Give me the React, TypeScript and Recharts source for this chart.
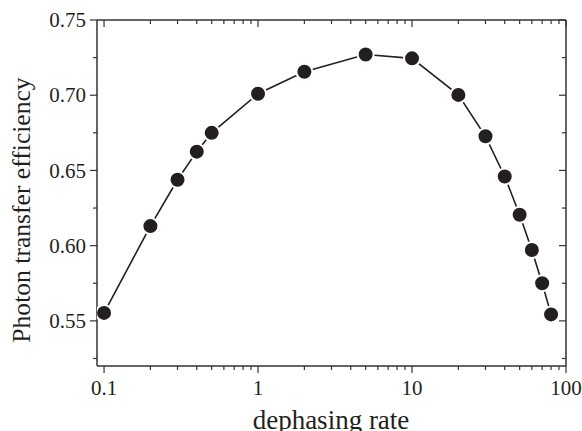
import * as React from 'react';
import { LineChart, Line, XAxis, YAxis, Label } from 'recharts';

const rates = [0.1, 0.2, 0.3, 0.4, 0.5, 1, 2, 5, 10, 20, 30, 40, 50, 60, 70, 80];
const efficiency = [
  0.5553, 0.613, 0.6438, 0.6625, 0.675, 0.701, 0.7156, 0.7271, 0.7245, 0.7002, 0.6727, 0.646,
  0.6205, 0.5971, 0.575, 0.5543,
];

const xMajorTicks = [0.1, 1, 10, 100];
const xMinorTicks = [
  0.2, 0.3, 0.4, 0.5, 0.6, 0.7, 0.8, 0.9, 2, 3, 4, 5, 6, 7, 8, 9, 20, 30, 40, 50, 60, 70, 80, 90,
];
const yMajorTicks = [0.55, 0.6, 0.65, 0.7, 0.75];
const yMinorTicks = [0.525, 0.575, 0.625, 0.675, 0.725];

const data = rates.map((r, i) => ({ rate: r, eff: efficiency[i] }));

const INK = '#231f20';
const AXIS = '#333';
const FONT = '"Liberation Serif", "Times New Roman", serif';
const MAJOR = 7;
const MINOR = 4;

const isMajorX = (v: number) => xMajorTicks.some((t) => Math.abs(t - v) < 1e-9);
const isMajorY = (v: number) => yMajorTicks.some((t) => Math.abs(t - v) < 1e-9);

function BottomTick({ x, y, payload }: any) {
  const major = isMajorX(payload.value);
  return (
    <g>
      <line x1={x} x2={x} y1={y} y2={y + (major ? MAJOR : MINOR)} stroke={AXIS} strokeWidth={1.2} />
      {major && (
        <text x={x} y={y + 28.5} textAnchor="middle" fontFamily={FONT} fontSize={21} fill={INK}>
          {String(payload.value)}
        </text>
      )}
    </g>
  );
}

function TopTick({ x, y, payload }: any) {
  const major = isMajorX(payload.value);
  return <line x1={x} x2={x} y1={y} y2={y + (major ? MAJOR : MINOR)} stroke={AXIS} strokeWidth={1.2} />;
}

function LeftTick({ x, y, payload }: any) {
  const major = isMajorY(payload.value);
  return (
    <g>
      <line x1={x} x2={x - (major ? MAJOR : MINOR)} y1={y} y2={y} stroke={AXIS} strokeWidth={1.2} />
      {major && (
        <text x={x - 11} y={y + 7.2} textAnchor="end" fontFamily={FONT} fontSize={21} fill={INK}>
          {payload.value.toFixed(2)}
        </text>
      )}
    </g>
  );
}

function RightTick({ x, y, payload }: any) {
  const major = isMajorY(payload.value);
  return <line x1={x} x2={x - (major ? MAJOR : MINOR)} y1={y} y2={y} stroke={AXIS} strokeWidth={1.2} />;
}

function Dot({ cx, cy }: any) {
  if (cx == null || cy == null) return null;
  return <circle cx={cx} cy={cy} r={8} fill={INK} stroke="#fff" strokeWidth={2} />;
}

export default function App() {
  const axisLine = { stroke: AXIS, strokeWidth: 1.5 };
  return (
    <div style={{ position: 'absolute', left: 0, top: 0, background: '#fff' }}>
      <LineChart width={582} height={431} data={data} margin={{ top: 19, right: 15, left: 0, bottom: 0 }}>
        <XAxis
          dataKey="rate"
          type="number"
          scale="log"
          domain={[0.09, 100]}
          allowDataOverflow
          ticks={[...xMajorTicks, ...xMinorTicks]}
          interval={0}
          tick={<BottomTick />}
          tickLine={false}
          tickSize={0}
          tickMargin={0}
          axisLine={axisLine}
          height={65}
        >
          <Label
            content={() => (
              <text x={331} y={429} textAnchor="middle" fontFamily={FONT} fontSize={27} fill={INK}>
                dephasing rate
              </text>
            )}
          />
        </XAxis>
        <XAxis
          xAxisId="top"
          orientation="top"
          dataKey="rate"
          type="number"
          scale="log"
          domain={[0.09, 100]}
          allowDataOverflow
          ticks={[...xMajorTicks, ...xMinorTicks]}
          interval={0}
          tick={<TopTick />}
          tickLine={false}
          tickSize={0}
          tickMargin={0}
          axisLine={axisLine}
          height={1}
        />
        <YAxis
          type="number"
          domain={[0.52, 0.75]}
          allowDataOverflow
          ticks={[...yMajorTicks, ...yMinorTicks]}
          interval={0}
          tick={<LeftTick />}
          tickLine={false}
          tickSize={0}
          tickMargin={0}
          axisLine={axisLine}
          width={97}
        >
          <Label
            content={() => (
              <text
                x={29.5}
                y={210}
                transform="rotate(-90, 29.5, 210)"
                textAnchor="middle"
                fontFamily={FONT}
                fontSize={25.6}
                fill={INK}
              >
                Photon transfer efficiency
              </text>
            )}
          />
        </YAxis>
        <YAxis
          yAxisId="right"
          orientation="right"
          type="number"
          domain={[0.52, 0.75]}
          allowDataOverflow
          ticks={[...yMajorTicks, ...yMinorTicks]}
          interval={0}
          tick={<RightTick />}
          tickLine={false}
          tickSize={0}
          tickMargin={0}
          axisLine={axisLine}
          width={1}
        />
        <Line
          xAxisId="top"
          yAxisId="right"
          type="linear"
          dataKey="eff"
          stroke="none"
          dot={false}
          activeDot={false}
          legendType="none"
          isAnimationActive={false}
        />
        <Line
          type="linear"
          dataKey="eff"
          stroke={INK}
          strokeWidth={1.6}
          dot={<Dot />}
          activeDot={false}
          isAnimationActive={false}
        />
      </LineChart>
    </div>
  );
}
